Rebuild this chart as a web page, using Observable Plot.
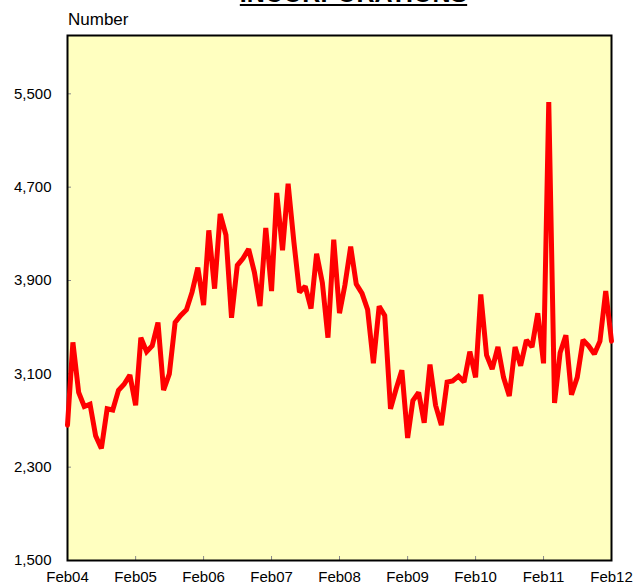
<!DOCTYPE html>
<html>
<head>
<meta charset="utf-8">
<script src="https://cdn.jsdelivr.net/npm/d3@7"></script>
<script src="https://cdn.jsdelivr.net/npm/@observablehq/plot@0.6"></script>
<style>
  html, body { margin: 0; padding: 0; background: #fff; }
  #wrap { position: relative; width: 644px; height: 586px; overflow: hidden; font-family: "Liberation Sans", Arial, sans-serif; }
  #title { position: absolute; left: 200px; width: 307px; top: -19px; text-align: center; font-size: 25px; line-height: 25px; font-weight: bold; text-decoration: underline; text-decoration-thickness: 2px; text-underline-offset: 2px; color: #000; white-space: nowrap; }
  #ylab { position: absolute; left: 68px; top: 11px; font-size: 17px; line-height: 17px; color: #000; }
  #chart { position: absolute; left: 0; top: 0; }
</style>
</head>
<body>
<div id="wrap">
  <div id="title">INCORPORATIONS</div>
  <div id="ylab">Number</div>
  <div id="chart"></div>
</div>
<script>
// Monthly series, Feb 2004 .. Feb 2012
const startMonth = "2004-02-01";
const values = [
  2660, 3370, 2940, 2820, 2840, 2570, 2460, 2800, 2790, 2960, 3010, 3090,
  2830, 3410, 3290, 3340, 3540, 2960, 3100, 3540, 3600, 3650, 3800, 4010,
  3690, 4330, 3830, 4470, 4290, 3580, 4030, 4090, 4170, 3970, 3680, 4350,
  3810, 4650, 4160, 4730, 4230, 3800, 3850, 3660, 4130, 3880, 3410, 4250,
  3620, 3860, 4190, 3870, 3790, 3650, 3190, 3680, 3600, 2800, 2970, 3130,
  2550, 2870, 2940, 2680, 3180, 2830, 2660, 3030, 3040, 3080, 3030, 3290,
  3070, 3780, 3260, 3140, 3330, 3070, 2910, 3330, 3170, 3390, 3330, 3620,
  3190, 5430, 2850, 3280, 3430, 2920, 3070, 3390, 3340, 3270, 3380, 3810,
  3380
];
const yTicks = [1500, 2300, 3100, 3900, 4700, 5500];
const xTickLabels = ["Feb04", "Feb05", "Feb06", "Feb07", "Feb08", "Feb09", "Feb10", "Feb11", "Feb12"];

const start = new Date(startMonth);
const data = values.map((v, i) => ({ date: d3.utcMonth.offset(start, i), value: v }));
const xTicks = xTickLabels.map((s, i) => d3.utcYear.offset(start, i));

const W = 644, H = 586;
const mL = 67, mR = 33, mT = 35, mB = 26;
const pw = W - mL - mR, ph = H - mT - mB;

const chart = Plot.plot({
  width: W,
  height: H,
  marginLeft: mL,
  marginRight: mR,
  marginTop: mT,
  marginBottom: mB,
  style: { fontFamily: "'Liberation Sans', Arial, sans-serif", fontSize: "15px", background: "transparent", color: "#000" },
  x: { type: "utc", domain: [xTicks[0], xTicks[xTicks.length - 1]] },
  y: { domain: [1500, 6000] },
  marks: [
    Plot.frame({ fill: "#FFFFC0", stroke: null }),
    Plot.tickY(yTicks, { y: d => d, insetRight: pw - 4, stroke: "#888", strokeWidth: 1 }),
    Plot.tickX(xTicks, { x: d => d, insetTop: ph - 4, stroke: "#888", strokeWidth: 1 }),
    Plot.frame({ stroke: "#000", strokeWidth: 2 }),
    Plot.line(data, { x: "date", y: "value", stroke: "#FF0000", strokeWidth: 5, strokeLinejoin: "miter", strokeMiterlimit: 2 }),
    Plot.axisY({ ticks: yTicks, tickSize: 0, tickPadding: 16, tickFormat: d3.format(","), label: null, fontSize: 15 }),
    Plot.axisX({ ticks: xTicks, tickSize: 0, tickPadding: 11, tickFormat: (d, i) => xTickLabels[i], label: null, fontSize: 15 })
  ]
});
document.getElementById("chart").appendChild(chart);
</script>
</body>
</html>
